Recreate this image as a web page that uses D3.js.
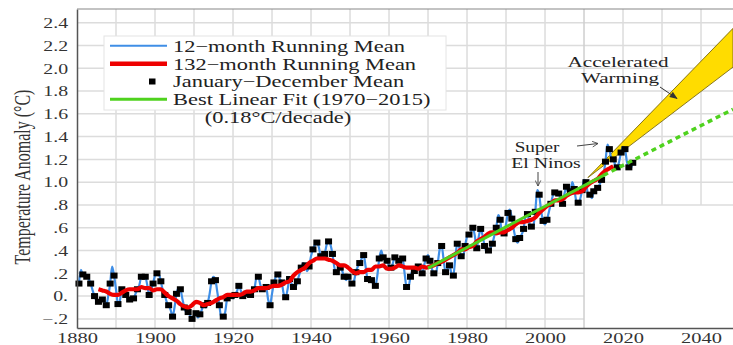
<!DOCTYPE html>
<html><head><meta charset="utf-8">
<script src="https://cdn.jsdelivr.net/npm/d3@7"></script>
<style>
html,body{margin:0;padding:0;background:#fff;}
svg{display:block;font-family:"Liberation Serif","Times New Roman",serif;}
</style></head><body>
<svg id="chart" width="733" height="345"></svg>
<script>
// Global temperature anomaly (°C), annual January–December means, 1880–2022
const annualYears = d3.range(1880, 2023);
const annualMean = [
  0.11, 0.19, 0.17, 0.11, 0.00, -0.05, -0.03, -0.08, 0.11, 0.18,
  -0.07, 0.06, 0.01, -0.03, -0.02, 0.06, 0.17, 0.17, 0.01, 0.11,
  0.20, 0.13, 0.01, -0.08, -0.18, 0.02, 0.06, -0.10, -0.14, -0.20,
  -0.15, -0.16, -0.08, -0.06, 0.13, 0.14, -0.08, -0.18, -0.02, 0.00,
  0.01, 0.09, 0.00, 0.02, 0.01, 0.06, 0.17, 0.06, 0.08, -0.08,
  0.12, 0.19, 0.12, -0.01, 0.15, 0.08, 0.13, 0.25, 0.27, 0.26,
  0.41, 0.47, 0.35, 0.37, 0.48, 0.37, 0.21, 0.25, 0.17, 0.17,
  0.11, 0.21, 0.29, 0.36, 0.15, 0.14, 0.09, 0.33, 0.34, 0.31,
  0.25, 0.34, 0.31, 0.33, 0.08, 0.17, 0.22, 0.26, 0.20, 0.33,
  0.31, 0.20, 0.29, 0.44, 0.21, 0.27, 0.18, 0.46, 0.35, 0.44,
  0.54, 0.60, 0.42, 0.59, 0.44, 0.40, 0.46, 0.60, 0.67, 0.55,
  0.73, 0.68, 0.50, 0.51, 0.59, 0.72, 0.61, 0.74, 0.89, 0.66,
  0.67, 0.81, 0.91, 0.90, 0.81, 0.96, 0.92, 0.94, 0.82, 0.93,
  1.00, 0.89, 0.92, 0.95, 1.02, 1.18, 1.29, 1.20, 1.13, 1.26,
  1.29, 1.13, 1.17
];
// 12-month running mean centred on 1 January of 1881..2023
const runMean12Jan = [
  0.23, 0.20, 0.15, 0.05, -0.04, -0.05, -0.05, 0.00, 0.26, 0.06,
  -0.04, 0.04, -0.02, -0.04, 0.02, 0.10, 0.17, 0.10, 0.05, 0.18,
  0.19, 0.05, -0.05, -0.12, -0.10, 0.07, -0.02, -0.14, -0.17, -0.18,
  -0.19, -0.12, -0.10, 0.02, 0.17, 0.03, -0.19, -0.14, 0.01, -0.02,
  0.04, 0.05, -0.01, 0.02, 0.02, 0.16, 0.10, 0.05, -0.03, 0.02,
  0.17, 0.15, 0.02, 0.06, 0.11, 0.08, 0.19, 0.29, 0.22, 0.35,
  0.45, 0.43, 0.35, 0.45, 0.45, 0.25, 0.22, 0.22, 0.14, 0.13,
  0.13, 0.26, 0.33, 0.26, 0.14, 0.10, 0.18, 0.40, 0.32, 0.27,
  0.29, 0.33, 0.31, 0.20, 0.08, 0.22, 0.22, 0.22, 0.27, 0.36,
  0.24, 0.20, 0.41, 0.32, 0.24, 0.20, 0.34, 0.43, 0.35, 0.52,
  0.56, 0.53, 0.52, 0.53, 0.39, 0.42, 0.53, 0.71, 0.55, 0.63,
  0.76, 0.58, 0.47, 0.54, 0.70, 0.64, 0.62, 0.93, 0.75, 0.63,
  0.74, 0.88, 0.91, 0.86, 0.90, 0.90, 1.00, 0.84, 0.85, 1.02,
  0.90, 0.86, 0.95, 0.98, 1.07, 1.33, 1.21, 1.15, 1.18, 1.31,
  1.18, 1.12, 1.16
];
// 132-month running mean, centred on mid-year 1885..2017
const runMean132Years = d3.range(1885, 2018);
const runMean132 = [
  0.06, 0.05, 0.04, 0.02, 0.01, 0.01, 0.03, 0.05, 0.06, 0.06,
  0.06, 0.08, 0.07, 0.07, 0.05, 0.06, 0.06, 0.03, 0.00, -0.02,
  -0.04, -0.07, -0.09, -0.10, -0.08, -0.05, -0.06, -0.08, -0.07, -0.06,
  -0.04, -0.02, -0.01, 0.01, 0.01, 0.01, 0.01, 0.02, 0.04, 0.04,
  0.05, 0.07, 0.07, 0.07, 0.08, 0.09, 0.09, 0.10, 0.12, 0.13,
  0.18, 0.21, 0.23, 0.25, 0.29, 0.31, 0.33, 0.33, 0.33, 0.32,
  0.31, 0.29, 0.27, 0.27, 0.25, 0.22, 0.20, 0.21, 0.21, 0.23,
  0.23, 0.26, 0.26, 0.27, 0.24, 0.24, 0.25, 0.27, 0.26, 0.25,
  0.25, 0.25, 0.24, 0.26, 0.25, 0.26, 0.27, 0.29, 0.30, 0.32,
  0.34, 0.36, 0.38, 0.41, 0.41, 0.43, 0.44, 0.48, 0.50, 0.52,
  0.55, 0.56, 0.55, 0.56, 0.56, 0.58, 0.60, 0.63, 0.65, 0.65,
  0.66, 0.67, 0.69, 0.73, 0.76, 0.79, 0.81, 0.84, 0.84, 0.85,
  0.88, 0.90, 0.91, 0.91, 0.92, 0.96, 0.99, 1.01, 1.03, 1.07,
  1.10, 1.12, 1.14
];
// Best linear fit 1970-2015 and its extension
const fitYears = [1970, 2015];
const fitValues = [0.245, 1.06];
const fitExtYears = [2015, 2048.2];
const fitExtValues = [1.06, 1.64];
// Accelerated-warming wedge
const wedgeYears = [2011, 2048.2];
const wedgeUpper = [1.04, 2.35];
const wedgeLower = [1.04, 2.01];

const xTicks = [1880, 1900, 1920, 1940, 1960, 1980, 2000, 2020, 2040];
const xGrid = d3.range(1890, 2041, 10);
const yTicks = [-0.2, 0, 0.2, 0.4, 0.6, 0.8, 1.0, 1.2, 1.4, 1.6, 1.8, 2.0, 2.2, 2.4];
const yTickLabels = ["\u2212.2", "0.", ".2", ".4", ".6", ".8", "1.0", "1.2", "1.4", "1.6", "1.8", "2.0", "2.2", "2.4"];
const legendLabels = ["12\u2212month Running Mean", "132\u2212month Running Mean",
  "January\u2212December Mean", "Best Linear Fit (1970\u22122015)"];
const legendNote = "(0.18\u00B0C/decade)";
const yTitle = "Temperature Anomaly (\u00B0C)";

const W = 733, H = 345;
const svg = d3.select("#chart");
const x = d3.scaleLinear().domain([1880, 2048.2]).range([77, 733]);
const y = d3.scaleLinear().domain([-0.28, 2.52]).range([328, 9]);
const SX = 1.32; // horizontal glyph stretch for axis labels
const gridColor = "#dcdcdc";
const extGridFloor = 0.8;

// grid
const grid = svg.append("g");
yTicks.forEach(v => {
  grid.append("line")
    .attr("x1", x(1880)).attr("x2", v >= extGridFloor ? x(2048.2) : x(2010))
    .attr("y1", y(v)).attr("y2", y(v))
    .attr("stroke", gridColor).attr("stroke-width", 1.5);
});
xGrid.forEach(yr => {
  grid.append("line")
    .attr("x1", x(yr)).attr("x2", x(yr))
    .attr("y1", y(2.52)).attr("y2", yr > 2010 ? y(extGridFloor) : y(-0.28))
    .attr("stroke", yr === 2010 ? "#cfcfcf" : gridColor).attr("stroke-width", 1.5);
});

// wedge
const wedgePts = wedgeYears.map((t, i) => [t, wedgeUpper[i]])
  .concat(wedgeYears.map((t, i) => [t, wedgeLower[i]]).reverse());
svg.append("path")
  .attr("d", d3.line().x(d => x(d[0])).y(d => y(d[1]))(wedgePts) + "Z")
  .attr("fill", "#ffdc00").attr("stroke", "#7a6a10").attr("stroke-width", 0.9);

// blue: 12-month running mean
const blue = [];
annualYears.forEach((yr, i) => {
  blue.push([yr + 0.5, annualMean[i]]);
  blue.push([yr + 1, runMean12Jan[i]]);
});
svg.append("path")
  .attr("d", d3.line().curve(d3.curveMonotoneX).x(d => x(d[0])).y(d => y(d[1]))(blue))
  .attr("fill", "none").attr("stroke", "#3f8ee6").attr("stroke-width", 2.2);

// annual squares
svg.append("g").selectAll("rect").data(annualYears).join("rect")
  .attr("x", (d) => x(d + 0.5) - 3.5).attr("y", (d, i) => y(annualMean[i]) - 3)
  .attr("width", 7).attr("height", 6).attr("fill", "#000");

// red: 132-month running mean
svg.append("path")
  .attr("d", d3.line().curve(d3.curveMonotoneX).x((d, i) => x(d + 0.5)).y((d, i) => y(runMean132[i]))(runMean132Years))
  .attr("fill", "none").attr("stroke", "#ee0000").attr("stroke-width", 4.2).attr("stroke-linejoin", "round");

// green fit
svg.append("line")
  .attr("x1", x(fitYears[0])).attr("y1", y(fitValues[0]))
  .attr("x2", x(fitYears[1])).attr("y2", y(fitValues[1]))
  .attr("stroke", "#4fd21e").attr("stroke-width", 3);
svg.append("line")
  .attr("x1", x(fitExtYears[0])).attr("y1", y(fitExtValues[0]))
  .attr("x2", x(fitExtYears[1])).attr("y2", y(fitExtValues[1]))
  .attr("stroke", "#4fd21e").attr("stroke-width", 3.5).attr("stroke-dasharray", "5,4");

// axes
const yAxis = svg.append("g").attr("transform", `translate(${x(1880)},0)`)
  .call(d3.axisLeft(y).tickValues(yTicks).tickFormat((d, i) => yTickLabels[i])
    .tickSizeInner(0).tickSizeOuter(0).tickPadding(6.8));
yAxis.select(".domain").attr("stroke", "#555").attr("stroke-width", 1.5);
yAxis.selectAll("text").attr("font-size", 15).attr("fill", "#333")
  .attr("font-family", "Liberation Serif, Times New Roman, serif")
  .attr("transform", `scale(${SX},1)`);

const xAxis = svg.append("g").attr("transform", `translate(0,${y(-0.28)})`)
  .call(d3.axisBottom(x).tickValues(xTicks).tickFormat(d3.format("d"))
    .tickSizeInner(0).tickSizeOuter(0).tickPadding(4));
xAxis.select(".domain").attr("stroke", "#555").attr("stroke-width", 1.5);
xAxis.selectAll("text").attr("font-size", 15.5).attr("fill", "#333")
  .attr("font-family", "Liberation Serif, Times New Roman, serif")
  .attr("transform", `scale(${SX},1)`);

svg.append("line").attr("x1", x(1880)).attr("x2", W).attr("y1", y(2.52)).attr("y2", y(2.52))
  .attr("stroke", "#888").attr("stroke-width", 1.2);

// axis title
svg.append("text").text(yTitle)
  .attr("transform", `translate(30,177) scale(1.5,1) rotate(-90)`)
  .attr("text-anchor", "middle").attr("font-size", 16).attr("fill", "#333");

// legend
const lg = svg.append("g");
lg.append("rect").attr("x", 104).attr("y", 36).attr("width", 342).attr("height", 74)
  .attr("fill", "#fff").attr("stroke", "#e4e4e4").attr("stroke-width", 1);
const rowY = [45.7, 63.7, 81.5, 99.2];
const LSX = 1.42, LFS = 15.8;
const styles = [
  {type: "line", color: "#3f8ee6", w: 2},
  {type: "line", color: "#ee0000", w: 4.5},
  {type: "square"},
  {type: "line", color: "#4fd21e", w: 3}
];
legendLabels.forEach((lab, i) => {
  const s = styles[i];
  if (s.type === "line") {
    lg.append("line").attr("x1", 110).attr("x2", 167).attr("y1", rowY[i]).attr("y2", rowY[i])
      .attr("stroke", s.color).attr("stroke-width", s.w);
  } else {
    lg.append("rect").attr("x", 149).attr("y", rowY[i] - 3).attr("width", 6.5).attr("height", 6).attr("fill", "#000");
  }
  lg.append("text").text(lab)
    .attr("transform", `translate(173,${rowY[i] + 5.8}) scale(${LSX},1)`)
    .attr("font-size", LFS).attr("fill", "#222");
});
svg.append("text").text(legendNote)
  .attr("transform", `translate(278,122.8) scale(${LSX},1)`)
  .attr("text-anchor", "middle").attr("font-size", LFS).attr("fill", "#222");

// annotations
const defs = svg.append("defs");
defs.append("marker").attr("id", "openArrow").attr("viewBox", "0 0 10 10")
  .attr("refX", 9).attr("refY", 5).attr("markerWidth", 7).attr("markerHeight", 7)
  .attr("orient", "auto").attr("markerUnits", "userSpaceOnUse")
  .append("path").attr("d", "M1,1 L9,5 L1,9").attr("fill", "none").attr("stroke", "#444").attr("stroke-width", 1.2);
defs.append("marker").attr("id", "solidArrow").attr("viewBox", "0 0 10 10")
  .attr("refX", 9).attr("refY", 5).attr("markerWidth", 9).attr("markerHeight", 8)
  .attr("orient", "auto").attr("markerUnits", "userSpaceOnUse")
  .append("path").attr("d", "M0,1 L10,5 L0,9 Z").attr("fill", "#333");

const AFS = 14.4;
svg.append("text").text("Super")
  .attr("transform", `translate(537,151.5) scale(1.33,1)`)
  .attr("text-anchor", "middle").attr("font-size", AFS).attr("fill", "#222");
svg.append("text").text("El Ninos")
  .attr("transform", `translate(546,167.5) scale(1.37,1)`)
  .attr("text-anchor", "middle").attr("font-size", AFS).attr("fill", "#222");
svg.append("line").attr("x1", 538).attr("y1", 172).attr("x2", 538).attr("y2", 186)
  .attr("stroke", "#444").attr("stroke-width", 1).attr("marker-end", "url(#openArrow)");
svg.append("line").attr("x1", 577).attr("y1", 146).attr("x2", 598).attr("y2", 143.5)
  .attr("stroke", "#444").attr("stroke-width", 1).attr("marker-end", "url(#openArrow)");

svg.append("text").text("Accelerated")
  .attr("transform", `translate(618,66.5) scale(1.47,1)`)
  .attr("text-anchor", "middle").attr("font-size", AFS).attr("fill", "#222");
svg.append("text").text("Warming")
  .attr("transform", `translate(620,82.5) scale(1.47,1)`)
  .attr("text-anchor", "middle").attr("font-size", AFS).attr("fill", "#222");
svg.append("line").attr("x1", 660).attr("y1", 87).attr("x2", 677).attr("y2", 98.5)
  .attr("stroke", "#333").attr("stroke-width", 1).attr("marker-end", "url(#solidArrow)");
</script>
</body></html>
